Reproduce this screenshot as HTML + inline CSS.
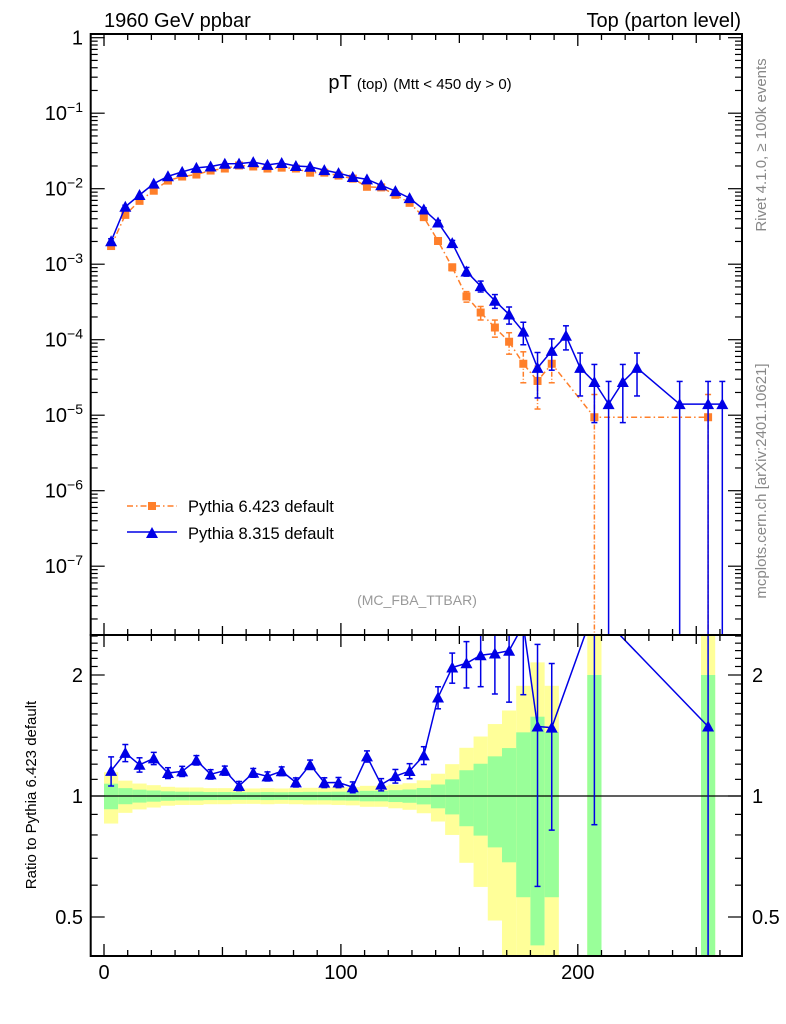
<!DOCTYPE html>
<html><head><meta charset="utf-8"><style>
html,body{margin:0;padding:0;background:#fff;width:786px;height:1024px;overflow:hidden;}
svg{display:block;font-family:"Liberation Sans",Arial,sans-serif;overflow:hidden;}
</style></head><body>
<svg id="chart" width="786" height="1024" viewBox="0 0 786 1024" xmlns="http://www.w3.org/2000/svg">
<text x="104" y="27" font-size="20">1960 GeV ppbar</text>
<text x="741" y="27" font-size="20" text-anchor="end">Top (parton level)</text>
<text x="420" y="89" font-size="20" text-anchor="middle">pT <tspan font-size="15">(top)</tspan> <tspan font-size="15">(Mtt &lt; 450 dy &gt; 0)</tspan></text>
<text x="417" y="605" font-size="14" fill="#999" text-anchor="middle">(MC_FBA_TTBAR)</text>
<text transform="translate(766,145) rotate(-90)" font-size="15" fill="#888" text-anchor="middle">Rivet 4.1.0, ≥ 100k events</text>
<text transform="translate(766,481) rotate(-90)" font-size="15" fill="#888" text-anchor="middle">mcplots.cern.ch [arXiv:2401.10621]</text>
<text transform="translate(36,795) rotate(-90)" font-size="15" text-anchor="middle">Ratio to Pythia 6.423 default</text>
<g id="bands"></g><g id="marks"></g><g id="axes"></g>
<g>
<g>
<line x1="127" y1="506" x2="177" y2="506" stroke="#ff7f2a" stroke-width="1.5" stroke-dasharray="6,3,1.5,3"/>
<rect x="148" y="502" width="8" height="8" fill="#ff7f2a"/>
<text x="188" y="512" font-size="16.5">Pythia 6.423 default</text></g>
<g>
<line x1="127" y1="532" x2="177" y2="532" stroke="#0000e6" stroke-width="1.5"/>
<polygon points="146,538 158,538 152,527" fill="#0000e6"/>
<text x="188" y="539" font-size="16.5">Pythia 8.315 default</text></g>
</g>
</svg>
<script>
const binCenters=[3,9,15,21,27,33,39,45,51,57,63,69,75,81,87,93,99,105,111,117,123,129,135,141,147,153,159,165,171,177,183,189,195,201,207,213,219,225,231,237,243,249,255,261];
const pythia6=[1.74e-3,4.5e-3,6.9e-3,9.4e-3,1.28e-2,1.45e-2,1.54e-2,1.74e-2,1.85e-2,2.03e-2,1.97e-2,1.85e-2,1.90e-2,1.85e-2,1.63e-2,1.63e-2,1.49e-2,1.36e-2,1.06e-2,1.04e-2,8.3e-3,6.5e-3,4.2e-3,2.03e-3,9.1e-4,3.74e-4,2.29e-4,1.45e-4,9.4e-5,4.8e-5,2.84e-5,4.8e-5,0,0,9.4e-6,0,0,0,0,0,0,0,9.4e-6,0];
const pythia6RelErr=[0.073,0.046,0.037,0.032,0.027,0.025,0.025,0.023,0.023,0.022,0.022,0.023,0.022,0.023,0.024,0.024,0.025,0.026,0.030,0.030,0.034,0.038,0.047,0.068,0.10,0.159,0.203,0.255,0.316,0.44,0.575,0.44,0,0,1.0,0,0,0,0,0,0,0,1.0,0];
const pythia8=[2.01e-3,5.76e-3,8.25e-3,1.166e-2,1.46e-2,1.67e-2,1.89e-2,1.97e-2,2.14e-2,2.15e-2,2.25e-2,2.07e-2,2.19e-2,2.0e-2,1.95e-2,1.76e-2,1.61e-2,1.43e-2,1.33e-2,1.11e-2,9.3e-3,7.5e-3,5.3e-3,3.57e-3,1.9e-3,8.0e-4,5.13e-4,3.28e-4,2.16e-4,1.28e-4,4.23e-5,7.1e-5,1.13e-4,4.23e-5,2.75e-5,1.4e-5,2.75e-5,4.23e-5,0,0,1.4e-5,0,1.4e-5,1.4e-5];
const pythia8RelErr=[0.083,0.049,0.041,0.035,0.031,0.029,0.027,0.027,0.026,0.026,0.025,0.026,0.025,0.026,0.027,0.028,0.029,0.031,0.032,0.035,0.039,0.043,0.051,0.063,0.086,0.132,0.165,0.207,0.255,0.33,0.6,0.444,0.352,0.575,0.71,1.0,0.71,0.575,0,0,1.0,0,1.0,1.0];
const binHalfWidth=3;
const xTickLabels=[0,100,200];
const mainTickExps=[0,-1,-2,-3,-4,-5,-6,-7];
const ratioTickLabels=[0.5,1,2];

const NS="http://www.w3.org/2000/svg";
const L=90.7,R=742,T=34,MB=635,RB=956;
const X=v=>104+2.369*v;
const Y=v=>37.7-75.5*Math.log10(v);
const YR=v=>796-121*Math.log2(v);
function el(tag,attrs,parent){const e=document.createElementNS(NS,tag);for(const k in attrs)e.setAttribute(k,attrs[k]);parent.appendChild(e);return e;}
const svg=document.getElementById('chart');
const defs=el('defs',{},svg);
const c1=el('clipPath',{id:'cm'},defs);el('rect',{x:L,y:T,width:R-L,height:MB-T},c1);
const c2=el('clipPath',{id:'cr'},defs);el('rect',{x:L,y:MB,width:R-L,height:RB-MB},c2);
const bands=document.getElementById('bands');bands.setAttribute('clip-path','url(#cr)');
const marks=document.getElementById('marks');
const axes=document.getElementById('axes');

binCenters.forEach((c,i)=>{
  if(!(pythia6[i]>0))return;
  const e=pythia6RelErr[i];
  const x0=X(c-binHalfWidth),x1=X(c+binHalfWidth);
  const yt=1+2*e,yb=1-2*e,gt=1+e,gb=1-e;
  const ya=YR(yt),yy=yb>0?YR(yb):RB+5;
  const r=el('rect',{x:x0,y:ya,width:x1-x0,height:yy-ya,fill:'#ffff99'},bands);
  
  
  const ga=YR(gt),gy=gb>0?YR(gb):RB+5;
  const g=el('rect',{x:x0,y:ga,width:x1-x0,height:gy-ga,fill:'#99ff99'},bands);
  
  
});
const one=el('line',{x1:L,x2:R,y1:YR(1),y2:YR(1),stroke:'#000','stroke-width':1.3},marks);



function series(vals,errs,color,dash,kind,clip,yf,name,ybot){
  const g=el('g',{'clip-path':'url(#'+clip+')'},marks);
  
  
  let pts=[];
  vals.forEach((v,i)=>{if(v>0)pts.push([X(binCenters[i]),yf(v)]);});
  const p=el('polyline',{points:pts.map(q=>q.join(',')).join(' '),fill:'none',stroke:color,'stroke-width':1.5},g);
  if(dash)p.setAttribute('stroke-dasharray',dash);
  vals.forEach((v,i)=>{
    if(!(v>0))return;
    const x=X(binCenters[i]),y=yf(v);
    const e=errs[i]*v;
    const yt=yf(v+e),yb=(v-e)>0?yf(v-e):ybot;
    if(Math.abs(yb-yt)>3){
      const ln=el('line',{x1:x,x2:x,y1:yt,y2:Math.min(yb,ybot),stroke:color,'stroke-width':1.5},g);
      if(dash)ln.setAttribute('stroke-dasharray','5,2,1,2');
      
      
      el('line',{x1:x-3,x2:x+3,y1:yt,y2:yt,stroke:color,'stroke-width':1.5},g);
      if(yb<ybot)el('line',{x1:x-3,x2:x+3,y1:yb,y2:yb,stroke:color,'stroke-width':1.5},g);
    }
    let m;
    if(kind==='sq')m=el('rect',{x:x-4,y:y-4,width:8,height:8,fill:color},g);
    else m=el('polygon',{points:`${x-6},${y+5} ${x+6},${y+5} ${x},${y-6}`,fill:color},g);
    
    
  });
}
series(pythia6,pythia6RelErr,'#ff7f2a','6,3,1.5,3','sq','cm',Y,'series-pythia6',MB);
series(pythia8,pythia8RelErr,'#0000e6',null,'tri','cm',Y,'series-pythia8',MB);
const ratioVals=pythia8.map((v,i)=>(v>0&&pythia6[i]>0)?v/pythia6[i]:0);
series(ratioVals,pythia8RelErr,'#0000e6',null,'tri','cr',YR,'ratio-pythia8',RB);

[[T,MB],[MB,RB]].forEach(([a,b],k)=>{
  const f=el('rect',{x:L,y:a,width:R-L,height:b-a,fill:'none',stroke:'#000','stroke-width':2},axes);
  
  
  for(let v=0;v<=260;v+=10){
    const x=X(v),len=(v%50===0)?(v%100===0?12:9):6;
    el('line',{x1:x,x2:x,y1:b,y2:b-len,stroke:'#000','stroke-width':1.3},axes);
    el('line',{x1:x,x2:x,y1:a,y2:a+len,stroke:'#000','stroke-width':1.3},axes);
  }
});
for(let d=0;d>=-8;d--){
  for(let m=1;m<10;m++){
    const v=m*Math.pow(10,d),y=Y(v);
    if(y<T||y>MB)continue;
    const len=m===1?14:7;
    el('line',{x1:L,x2:L+len,y1:y,y2:y,stroke:'#000','stroke-width':1.2},axes);
    el('line',{x1:R,x2:R-len,y1:y,y2:y,stroke:'#000','stroke-width':1.2},axes);
  }
}
mainTickExps.forEach(e=>{
  const t=el('text',{x:83,y:Y(Math.pow(10,e))+7,'font-size':20,'text-anchor':'end'},axes);
  
  
  if(e===0)t.textContent='1';
  else{t.textContent='10';const s=el('tspan',{dy:-8,'font-size':14},t);s.textContent='−'+(-e);}
});
[0.4,0.5,0.6,0.7,0.8,0.9,1,1.1,1.2,1.3,1.4,1.5,1.6,1.7,1.8,1.9,2,2.1,2.2,2.3,2.4,2.5].forEach(v=>{
  const y=YR(v);if(y<MB||y>RB)return;
  const len=(v===0.5||v===1||v===2)?14:7;
  el('line',{x1:L,x2:L+len,y1:y,y2:y,stroke:'#000','stroke-width':1.2},axes);
  el('line',{x1:R,x2:R-len,y1:y,y2:y,stroke:'#000','stroke-width':1.2},axes);
});
ratioTickLabels.forEach(v=>{
  const t=el('text',{x:83,y:YR(v)+7,'font-size':20,'text-anchor':'end'},axes);
  t.textContent=String(v);
  
  
  const t2=el('text',{x:752,y:YR(v)+7,'font-size':20},axes);
  t2.textContent=String(v);
  
  
});
xTickLabels.forEach(v=>{
  const t=el('text',{x:X(v),y:979,'font-size':20,'text-anchor':'middle'},axes);
  t.textContent=String(v);
  
  
});
</script>
</body></html>
